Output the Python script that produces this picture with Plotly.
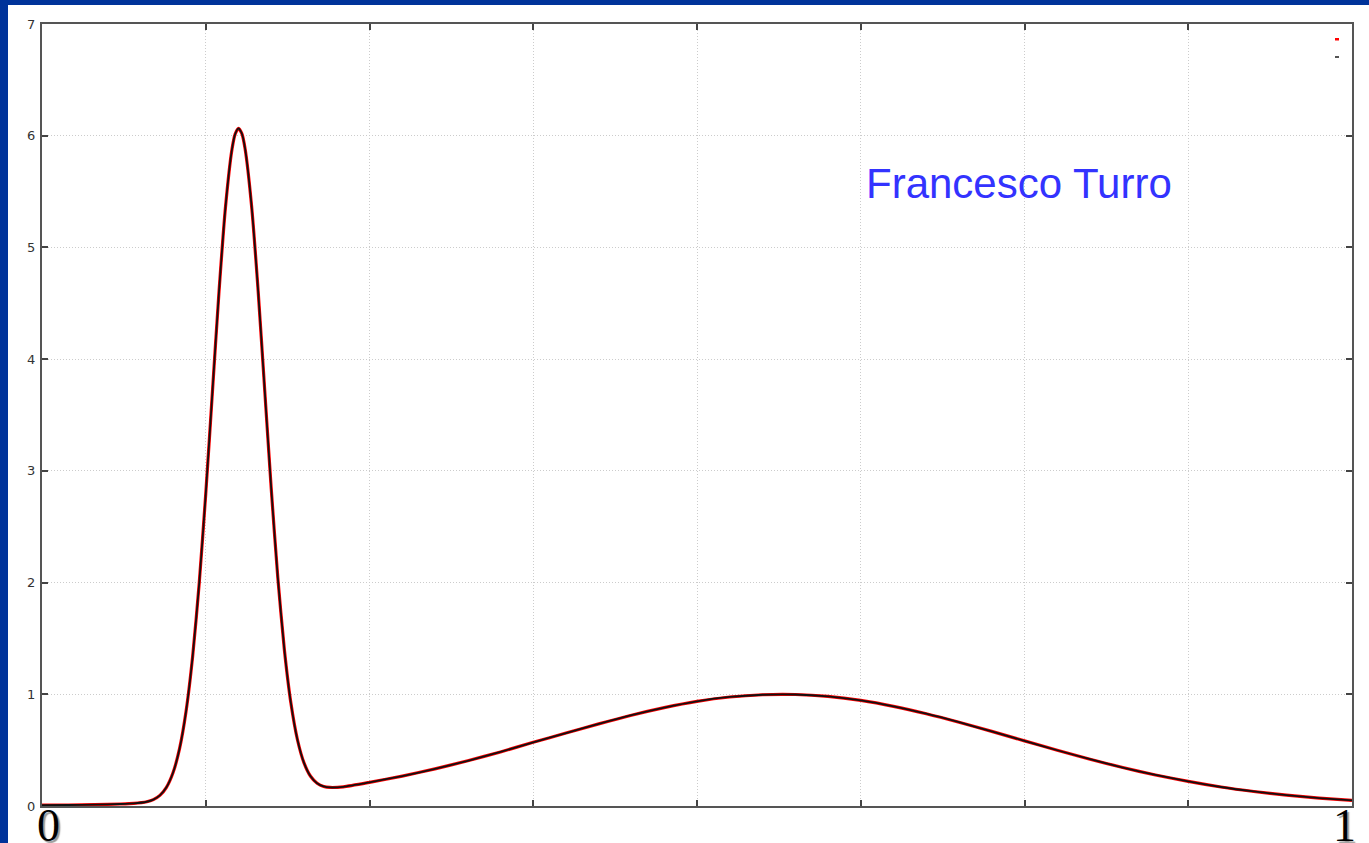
import plotly.graph_objects as go

# --- data ---
x_vals = [0.0, 0.02, 0.04, 0.06, 0.07, 0.08, 0.085, 0.09, 0.095, 0.10, 0.105,
          0.11, 0.115, 0.12, 0.125, 0.13, 0.135, 0.14, 0.145, 0.1475, 0.15,
          0.1525, 0.155, 0.16, 0.165, 0.17, 0.175, 0.18, 0.185, 0.19, 0.195,
          0.20, 0.205, 0.21, 0.215, 0.22, 0.23, 0.25, 0.275, 0.30, 0.325, 0.35,
          0.375, 0.40, 0.425, 0.45, 0.475, 0.50, 0.525, 0.55, 0.575, 0.60, 0.625,
          0.65, 0.675, 0.70, 0.725, 0.75, 0.775, 0.80, 0.825, 0.85, 0.875, 0.90,
          0.925, 0.95, 0.975, 1.0]
y_vals = [0.007, 0.009, 0.013, 0.018, 0.023, 0.038, 0.057, 0.095, 0.167, 0.297, 0.513,
          0.850, 1.339, 1.992, 2.794, 3.690, 4.583, 5.353, 5.877, 6.017, 6.066,
          6.021, 5.886, 5.370, 4.609, 3.724, 2.838, 2.045, 1.401, 0.921, 0.593,
          0.386, 0.266, 0.204, 0.175, 0.166, 0.172, 0.212, 0.268, 0.332, 0.405, 0.484,
          0.570, 0.653, 0.735, 0.813, 0.881, 0.937, 0.976, 0.996, 0.998, 0.981, 0.945,
          0.892, 0.826, 0.750, 0.668, 0.583, 0.499, 0.419, 0.344, 0.278, 0.220, 0.170,
          0.130, 0.097, 0.071, 0.051]
y_ticks = [0, 1, 2, 3, 4, 5, 6, 7]
x_grid = [0, 0.125, 0.25, 0.375, 0.5, 0.625, 0.75, 0.875, 1.0]
x_end_labels = ["0", "1"]
author = "Francesco Turro"

W, H = 1369, 843
L, R, T, B = 42, 17, 24, 37
pw, ph = W - L - R, H - T - B

def px(xp):
    return (xp - L) / pw

def py(yp):
    return (H - B - yp) / ph

fig = go.Figure()
fig.add_trace(go.Scatter(x=x_vals, y=y_vals, mode="lines", line=dict(color="#ff0000", width=3.2, shape="spline", smoothing=0.6),
                         showlegend=False, hoverinfo="skip"))
fig.add_trace(go.Scatter(x=x_vals, y=y_vals, mode="lines", line=dict(color="#111111", width=1.8, shape="spline", smoothing=0.6),
                         showlegend=False, hoverinfo="skip"))

shapes = [
    # white page area over blue frame
    dict(type="rect", xref="paper", yref="paper", x0=px(8), x1=px(W + 10), y0=py(H + 10), y1=py(5),
         fillcolor="white", line=dict(width=0), layer="below"),
    # key box area (hides grid)
    dict(type="rect", xref="paper", yref="paper", x0=px(1180), x1=px(1350), y0=py(100), y1=py(26),
         fillcolor="white", line=dict(width=0), layer="between"),
    # key samples
    dict(type="rect", xref="paper", yref="paper", x0=px(1335), x1=px(1339), y0=py(40.5), y1=py(38),
         fillcolor="#ff0000", line=dict(width=0), layer="above"),
    dict(type="rect", xref="paper", yref="paper", x0=px(1335), x1=px(1339), y0=py(58), y1=py(56),
         fillcolor="#555555", line=dict(width=0), layer="above"),
]

annotations = [
    dict(text=author, xref="paper", yref="paper", x=px(1018.5), y=py(183), xanchor="center", yanchor="middle",
         showarrow=False, font=dict(family="Liberation Sans, Arial", size=42, color="#3333ff")),
    dict(text=x_end_labels[0], xref="x", yref="paper", x=0, y=0, xanchor="center", yanchor="top", xshift=6, yshift=8,
         showarrow=False, font=dict(family="Liberation Serif, Times New Roman", size=46, color="#000000",
                                     shadow="2px 2px 1px #999999")),
    dict(text=x_end_labels[1], xref="x", yref="paper", x=1, y=0, xanchor="center", yanchor="top", xshift=-8, yshift=8,
         showarrow=False, font=dict(family="Liberation Serif, Times New Roman", size=46, color="#000000",
                                     shadow="2px 2px 1px #999999")),
]

fig.update_layout(
    width=W, height=H,
    margin=dict(l=L, r=R, t=T, b=B, pad=0),
    paper_bgcolor="#00339a",
    plot_bgcolor="white",
    showlegend=False,
    shapes=shapes,
    annotations=annotations,
    xaxis=dict(range=[0, 1], tickvals=x_grid, showticklabels=False, ticks="inside", ticklen=6, tickwidth=1.5,
               tickcolor="#444444", showline=True, linecolor="#555555", linewidth=2, mirror="ticks",
               showgrid=True, gridcolor="#cccccc", griddash="1px,2px", gridwidth=1, zeroline=False, fixedrange=True),
    yaxis=dict(range=[0, 7], tickvals=y_ticks, ticks="inside", ticklen=6, tickwidth=1.5,
               tickcolor="#444444", showline=True, linecolor="#555555", linewidth=2, mirror="ticks",
               showgrid=True, gridcolor="#cccccc", griddash="1px,2px", gridwidth=1, zeroline=False,
               tickfont=dict(family="DejaVu Sans, Arial", size=13, color="#333333"), ticklabelstandoff=2,
               fixedrange=True),
)

fig.write_html("out.html")
